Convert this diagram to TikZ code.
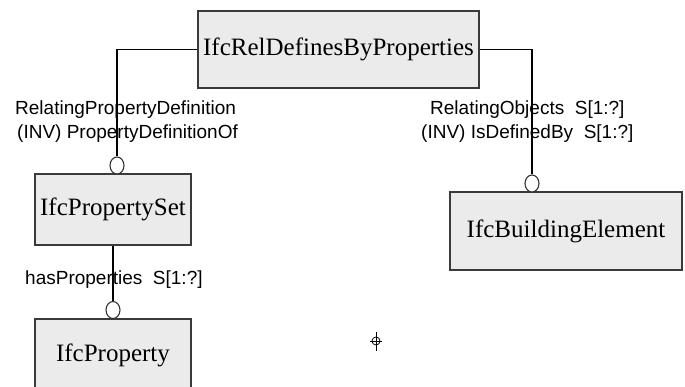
\documentclass[tikz,border=0pt]{standalone}
\usepackage{fontspec}
\setmainfont{Liberation Serif}
\newfontfamily\labelfont{Liberation Sans}
\usetikzlibrary{shapes.geometric}

\definecolor{boxfill}{HTML}{EBEBEB}
\definecolor{boxline}{HTML}{3A3A3A}

\tikzset{
  entity/.style={draw=boxline, fill=boxfill, line width=1.4pt, rectangle,
    inner sep=0pt, font=\fontsize{25}{28}\selectfont},
  link/.style={draw=black, line width=1.1pt},
  optmark/.style={draw=black!80, fill=white, ellipse, line width=1.1pt,
    minimum width=14pt, minimum height=17pt, inner sep=0pt},
  rolelabel/.style={anchor=base west, inner sep=0pt,
    font=\labelfont\fontsize{19}{22}\selectfont}
}

\begin{document}
\begin{tikzpicture}[x=1pt, y=-1pt]
  \useasboundingbox (0,0) rectangle (685,387);
  \clip (0,0) rectangle (685,387);
  \fill[white] (0,0) rectangle (685,387);

  % entities
  \node[entity, minimum width=281pt, minimum height=77pt] (rel) at (338.5,49.5) {IfcRelDefinesByProperties};
  \node[entity, minimum width=156pt, minimum height=71pt] (pset) at (113,209.5) {IfcPropertySet};
  \node[entity, minimum width=232pt, minimum height=78pt] (bldg) at (566,231) {IfcBuildingElement};
  \node[entity, minimum width=156pt, minimum height=72pt] (prop) at (113,355) {IfcProperty};

  % optional-end markers
  \node[optmark] (m1) at (117,165.5) {};
  \node[optmark] (m2) at (532,183.5) {};
  \node[optmark] (m3) at (113,310) {};

  % relationships
  \draw[link] (rel.west) -| (m1.north);
  \draw[link] (rel.east) -| (m2.north);
  \draw[link] (pset.south) -- (m3.north);

  % role names
  \node[rolelabel] (l1) at (15,115) {RelatingPropertyDefinition};
  \node[rolelabel] (l2) at (17,139) {(INV) PropertyDefinitionOf};
  \node[rolelabel] (l3) at (430,115) {RelatingObjects\ \ S[1:?]};
  \node[rolelabel] (l4) at (421,139) {(INV) IsDefinedBy\ \ S[1:?]};
  \node[rolelabel] (l5) at (25,284) {hasProperties\ \ S[1:?]};

  % crosshair cursor
  \draw[line width=0.8pt] (376,341) circle (4pt);
  \draw[line width=0.8pt] (376,332) -- (376,351);
  \draw[line width=0.8pt] (370,341) -- (382,341);
\end{tikzpicture}
\end{document}
